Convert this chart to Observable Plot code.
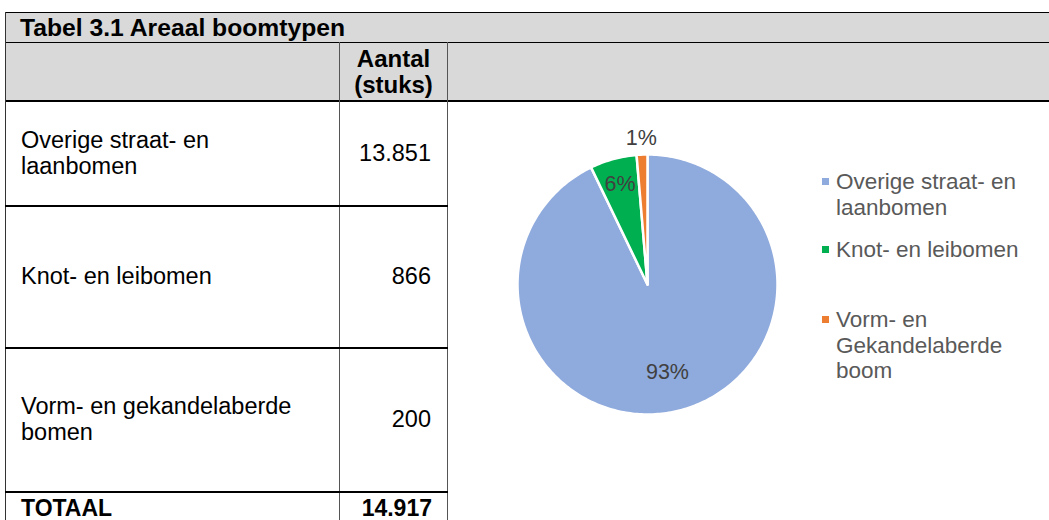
<!DOCTYPE html>
<html><head><meta charset="utf-8">
<script src="https://cdn.jsdelivr.net/npm/d3@7"></script>
<script src="https://cdn.jsdelivr.net/npm/@observablehq/plot@0.6"></script>
<style>
body{margin:0;background:#fff;}
#root{position:relative;width:1049px;height:520px;overflow:hidden;background:#fff;font-family:Arial,"Liberation Sans",sans-serif;color:#000;}
.ln{position:absolute;background:#000;}
.cell{position:absolute;display:flex;align-items:center;white-space:pre-line;font-size:23.5px;line-height:25.5px;}
.lg{position:absolute;white-space:pre-line;font-size:22.5px;line-height:25.5px;color:#595959;}
.sw{position:absolute;width:7px;height:7px;}
</style></head><body><div id="root"></div>
<script>
// ---- data ----
const title = "Tabel 3.1 Areaal boomtypen";
const columnHeader = "Aantal\n(stuks)";
const categories = ["Overige straat- en\nlaanbomen", "Knot- en leibomen", "Vorm- en gekandelaberde\nbomen"];
const counts = [13851, 866, 200];
const totalLabel = "TOTAAL";
const legendLabels = ["Overige straat- en\nlaanbomen", "Knot- en leibomen", "Vorm- en\nGekandelaberde\nboom"];
const colors = ["#8FAADC", "#00B050", "#ED7D31"];

// ---- layout ----
const root = document.getElementById("root");
const fmt = d3.formatLocale({decimal: ",", thousands: ".", grouping: [3], currency: ["€", ""]}).format(",d");
function el(cls, css, text) {
  const d = document.createElement("div");
  d.className = cls;
  Object.assign(d.style, css);
  if (text != null) d.textContent = text;
  root.appendChild(d);
  return d;
}
// header backgrounds
el("ln", {left: "5px", top: "12px", width: "1044px", height: "89px", background: "#d9d9d9"});
// lines
el("ln", {left: "5px", top: "12px", width: "1044px", height: "1px"});
el("ln", {left: "5px", top: "42px", width: "1044px", height: "1px"});
el("ln", {left: "5px", top: "100px", width: "1044px", height: "2px"});
el("ln", {left: "5px", top: "12px", width: "1px", height: "508px", background: "#333"});
el("ln", {left: "339px", top: "42px", width: "1px", height: "478px", background: "#555"});
el("ln", {left: "447px", top: "42px", width: "1px", height: "478px", background: "#555"});

const rowTops = [102, 206, 348];
const rowBottoms = [205, 347, 491];
rowBottoms.forEach((b, i) => {
  el("ln", {left: "5px", top: b + "px", width: "443px", height: i === 2 ? "2px" : "1.5px"});
});

// title
el("cell", {left: "20px", top: "13px", height: "29px", fontWeight: "bold", fontSize: "24.7px"}, title);
// column header
el("cell", {left: "340px", top: "43px", width: "107px", height: "57px", fontWeight: "bold", fontSize: "24px", lineHeight: "26px", justifyContent: "center", textAlign: "center"}, columnHeader);

categories.forEach((c, i) => {
  const top = rowTops[i], h = rowBottoms[i] - rowTops[i];
  el("cell", {left: "21px", top: top + "px", height: h + "px"}, c);
  el("cell", {left: "340px", top: top + "px", width: "91px", height: h + "px", justifyContent: "flex-end"}, fmt(counts[i]));
});
const total = d3.sum(counts);
el("cell", {left: "21px", top: "497px", height: "22px", lineHeight: "22px", fontWeight: "bold", fontSize: "23px", alignItems: "flex-start"}, totalLabel);
el("cell", {left: "340px", top: "497px", width: "92px", height: "22px", lineHeight: "22px", fontWeight: "bold", fontSize: "23px", alignItems: "flex-start", justifyContent: "flex-end"}, fmt(total));

// ---- pie ----
const slices = legendLabels.map((name, i) => ({name, value: counts[i]}));
const arcs = d3.pie().sort(null).value(d => d.value)(slices);
const pts = [];
const labels = [];
for (const a of arcs) {
  const name = a.data.name;
  const n = Math.max(2, Math.ceil((a.endAngle - a.startAngle) / (Math.PI / 180)));
  pts.push({name, x: 0, y: 0});
  for (let i = 0; i <= n; i++) {
    const t = a.startAngle + (a.endAngle - a.startAngle) * i / n;
    pts.push({name, x: Math.sin(t), y: Math.cos(t)});
  }
  pts.push({name, x: 0, y: 0});
  const frac = a.data.value / total;
  const r = frac < 0.03 ? 1.13 : frac < 0.5 ? 0.8 : 0.69;
  const m = (a.startAngle + a.endAngle) / 2;
  labels.push({x: r * Math.sin(m), y: r * Math.cos(m), text: Math.round(frac * 100) + "%"});
}

const chart = Plot.plot({
  width: 370,
  height: 388,
  margin: 0,
  style: {background: "transparent", fontFamily: "Arial, 'Liberation Sans', sans-serif"},
  x: {domain: [-1, 1], range: [68, 328], axis: null},
  y: {domain: [-1, 1], range: [311, 51], axis: null},
  color: {domain: legendLabels, range: colors},
  marks: [
    Plot.line(pts, {x: "x", y: "y", z: "name", fill: "name", stroke: "white", strokeWidth: 2.5, strokeLinejoin: "round"}),
    Plot.text(labels, {x: "x", y: "y", text: "text", fill: "#404040", fontSize: 21.5})
  ]
});
chart.style.position = "absolute";
chart.style.left = "449px";
chart.style.top = "103px";
root.appendChild(chart);

// ---- legend ----
const legendTops = [169, 237, 307];
legendLabels.forEach((l, i) => {
  el("sw", {left: "822px", top: (legendTops[i] + 9) + "px", background: colors[i]});
  el("lg", {left: "836px", top: legendTops[i] + "px"}, l);
});
</script></body></html>
